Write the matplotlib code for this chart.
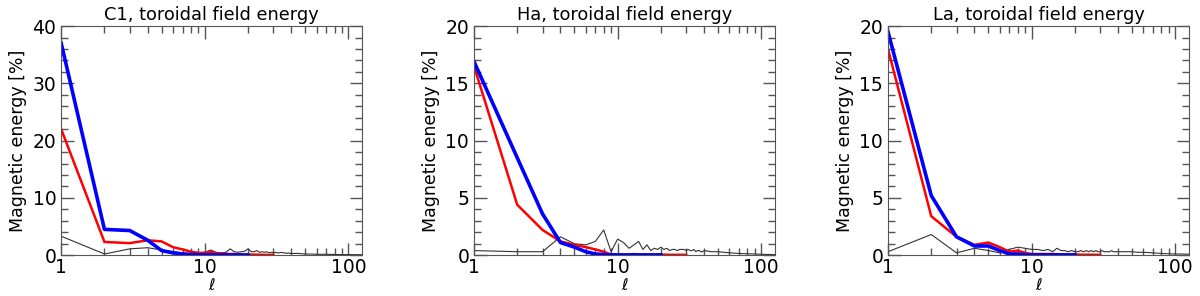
import matplotlib
matplotlib.use("Agg")
import matplotlib.pyplot as plt
from matplotlib.ticker import MultipleLocator, LogLocator, NullFormatter

# harmonic degrees
ell_main = list(range(1, 21))
ell_red = list(range(1, 31))
ell_gray = list(range(1, 41)) + [45, 50, 55, 60, 70, 80, 90, 100, 110, 127]

titles = ["C1, toroidal field energy", "Ha, toroidal field energy", "La, toroidal field energy"]
ymax = [40, 20, 20]
ymajor = [10, 5, 5]
yminor = [2, 1, 1]

# C1
c1_blue = [37.0, 4.5, 4.3, 2.6, 0.8, 0.4, 0.2, 0.1, 0.08, 0.06, 0.05, 0.05, 0.04, 0.04, 0.03, 0.03, 0.03, 0.02, 0.02, 0.02]
c1_red = [22.0, 2.3, 2.1, 2.6, 2.4, 1.4, 1.0, 0.6, 0.4, 0.4, 0.6, 0.3, 0.3, 0.25, 0.2, 0.2, 0.15, 0.15, 0.1, 0.1,
          0.1, 0.1, 0.08, 0.08, 0.06, 0.06, 0.05, 0.05, 0.04, 0.04]
c1_gray = [3.3, 0.2, 1.1, 1.3, 0.9, 0.6, 0.4, 0.3, 0.4, 0.5, 0.9, 0.5, 0.4, 0.5, 1.1, 0.6, 0.5, 0.6, 0.7, 1.1,
           0.6, 0.6, 0.8, 0.5, 0.6, 0.5, 0.6, 0.4, 0.5, 0.4, 0.5, 0.4, 0.4, 0.5, 0.4, 0.4, 0.3, 0.4, 0.3, 0.3,
           0.3, 0.2, 0.2, 0.15, 0.15, 0.12, 0.1, 0.1, 0.08, 0.08]

# Ha
ha_blue = [16.9, 8.5, 3.6, 1.1, 0.7, 0.3, 0.1, 0.05, 0.03, 0.02, 0.02, 0.02, 0.02, 0.02, 0.02, 0.02, 0.02, 0.02, 0.02, 0.02]
ha_red = [16.5, 4.4, 2.2, 1.2, 0.9, 0.7, 0.5, 0.3, 0.05, 0.05, 0.05, 0.05, 0.1, 0.05, 0.05, 0.04, 0.04, 0.04, 0.04, 0.04,
          0.04, 0.04, 0.03, 0.03, 0.03, 0.03, 0.03, 0.03, 0.03, 0.03]
ha_gray = [0.4, 0.3, 0.3, 1.6, 1.0, 0.9, 1.2, 2.2, 0.3, 1.4, 1.1, 0.6, 0.9, 1.2, 0.5, 0.9, 0.4, 0.6, 0.5, 0.7,
           0.5, 0.6, 0.4, 0.5, 0.5, 0.4, 0.5, 0.5, 0.5, 0.4, 0.5, 0.4, 0.4, 0.5, 0.3, 0.4, 0.4, 0.3, 0.3, 0.4,
           0.3, 0.3, 0.25, 0.2, 0.15, 0.12, 0.1, 0.08, 0.06, 0.05]

# La
la_blue = [19.5, 5.2, 1.6, 0.8, 0.8, 0.4, 0.1, 0.1, 0.03, 0.02, 0.02, 0.02, 0.02, 0.02, 0.02, 0.02, 0.02, 0.02, 0.02, 0.02]
la_red = [18.0, 3.4, 1.6, 0.9, 1.1, 0.7, 0.3, 0.4, 0.2, 0.1, 0.1, 0.1, 0.1, 0.1, 0.08, 0.06, 0.05, 0.05, 0.05, 0.05,
          0.05, 0.04, 0.04, 0.04, 0.04, 0.04, 0.03, 0.03, 0.03, 0.03]
la_gray = [0.3, 1.8, 0.2, 0.6, 0.4, 0.2, 0.5, 0.7, 0.6, 0.5, 0.5, 0.4, 0.5, 0.3, 0.6, 0.4, 0.4, 0.3, 0.4, 0.3,
           0.3, 0.4, 0.3, 0.4, 0.3, 0.4, 0.3, 0.4, 0.3, 0.3, 0.4, 0.3, 0.3, 0.3, 0.3, 0.4, 0.3, 0.3, 0.3, 0.3,
           0.3, 0.3, 0.25, 0.25, 0.2, 0.15, 0.12, 0.1, 0.1, 0.08]

blues = [c1_blue, ha_blue, la_blue]
reds = [c1_red, ha_red, la_red]
grays = [c1_gray, ha_gray, la_gray]

fig = plt.figure(figsize=(12, 2.96), dpi=100)
lefts = [0.051, 0.395, 0.740]

for i in range(3):
    ax = fig.add_axes([lefts[i], 0.138, 0.251, 0.774])
    ax.plot(ell_gray, grays[i], color="#333333", lw=0.8)
    ax.plot(ell_red, reds[i], color="red", lw=1.8)
    ax.plot(ell_main, blues[i], color="blue", lw=2.6)
    ax.set_xscale("log")
    ax.set_xlim(1, 125)
    ax.set_ylim(0, ymax[i])
    ax.yaxis.set_major_locator(MultipleLocator(ymajor[i]))
    ax.yaxis.set_minor_locator(MultipleLocator(yminor[i]))
    ax.xaxis.set_minor_locator(LogLocator(base=10, subs=range(2, 10)))
    ax.xaxis.set_minor_formatter(NullFormatter())
    ax.set_xticks([1, 10, 100])
    ax.set_xticklabels(["1", "10", "100"])
    ax.tick_params(which="both", direction="in", top=True, right=True, color="#555555", labelsize=13.5)
    ax.tick_params(which="major", length=9, width=1)
    ax.tick_params(which="minor", length=5, width=1)
    ax.tick_params(axis="x", pad=2)
    for s in ax.spines.values():
        s.set_color("#555555")
    ax.set_title(titles[i], fontsize=12.8, pad=4)
    ax.set_ylabel("Magnetic energy [%]", fontsize=12.5)
    ax.set_xlabel(r"$\ell$", fontsize=11.5, labelpad=0)

fig.savefig("out.png", dpi=100)
